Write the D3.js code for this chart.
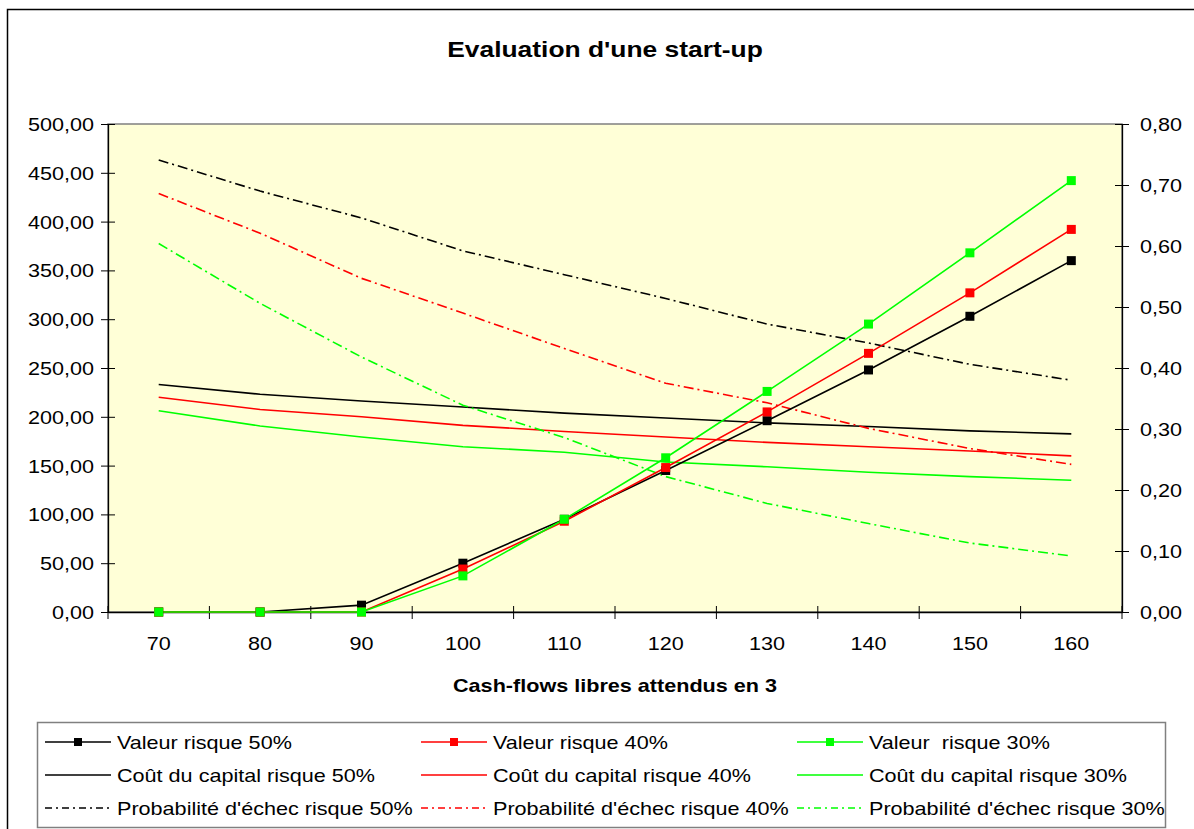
<!DOCTYPE html>
<html><head><meta charset="utf-8">
<script src="https://cdn.jsdelivr.net/npm/d3@7"></script>
<style>
body{margin:0;background:#fff;}
svg{display:block;font-family:"Liberation Sans",Arial,sans-serif;}
</style></head>
<body>
<script>
const categories = [70, 80, 90, 100, 110, 120, 130, 140, 150, 160];
const valeur50 = [0, 0, 7, 50, 95, 145, 196, 248, 303, 360];
const valeur40 = [0, 0, 0, 44, 93, 148, 205, 265, 327, 392];
const valeur30 = [0, 0, 0, 37, 95, 158, 226, 295, 368, 442];
const cout50 = [0.373, 0.357, 0.346, 0.336, 0.326, 0.318, 0.310, 0.304, 0.297, 0.292];
const cout40 = [0.352, 0.332, 0.320, 0.306, 0.296, 0.287, 0.278, 0.271, 0.264, 0.256];
const cout30 = [0.330, 0.305, 0.287, 0.271, 0.262, 0.246, 0.238, 0.229, 0.222, 0.216];
const proba50 = [0.741, 0.690, 0.646, 0.592, 0.553, 0.514, 0.472, 0.441, 0.406, 0.380];
const proba40 = [0.686, 0.621, 0.547, 0.490, 0.432, 0.375, 0.343, 0.301, 0.268, 0.242];
const proba30 = [0.604, 0.506, 0.418, 0.339, 0.286, 0.222, 0.178, 0.145, 0.113, 0.092];
const leftTicks = [0, 50, 100, 150, 200, 250, 300, 350, 400, 450, 500];
const rightTicks = [0, 0.1, 0.2, 0.3, 0.4, 0.5, 0.6, 0.7, 0.8];

const W = 1194, H = 829;
const SX = 1.2; // horizontal stretch of the text in the original rendering
const svg = d3.select("body").append("svg").attr("width", W).attr("height", H);

// outer chart border (right and bottom edges lie outside the picture)
svg.append("rect").attr("x", 7.5).attr("y", 9.5).attr("width", W + 10).attr("height", H + 10)
  .attr("fill", "#fff").attr("stroke", "#000").attr("stroke-width", 1.5);

const pl = 108, pr = 1122, pt = 124, pb = 612;
const x = d3.scaleBand().domain(categories).range([pl, pr]);
const yL = d3.scaleLinear().domain([0, 500]).range([pb, pt]);
const yR = d3.scaleLinear().domain([0, 0.8]).range([pb, pt]);

svg.append("rect").attr("x", pl).attr("y", pt).attr("width", pr - pl).attr("height", pb - pt)
  .attr("fill", "#FFFFD7").attr("stroke", "#808080").attr("stroke-width", 1.5);

const fr = d3.format(".2f");
const comma = v => fr(v).replace(".", ",");

function stretchText(g, xpos) {
  g.selectAll("text").attr("font-size", 18).attr("fill", "#000")
    .attr("font-family", '"Liberation Sans",Arial,sans-serif')
    .attr("x", xpos / SX).attr("transform", `scale(${SX},1)`);
}

// left axis
const gL = svg.append("g").attr("transform", `translate(${pl},0)`)
  .call(d3.axisLeft(yL).tickValues(leftTicks).tickFormat(comma).tickSizeInner(7).tickSizeOuter(0).tickPadding(6));
gL.selectAll(".tick line").attr("x2", 7).attr("x1", -7);
stretchText(gL, -14);
gL.selectAll("text").attr("dy", "0.36em");
// right axis
const gR = svg.append("g").attr("transform", `translate(${pr},0)`)
  .call(d3.axisRight(yR).tickValues(rightTicks).tickFormat(comma).tickSizeInner(7).tickSizeOuter(0).tickPadding(11));
gR.selectAll(".tick line").attr("x1", -7).attr("x2", 7);
stretchText(gR, 18);
gR.selectAll("text").attr("dy", "0.36em");
// bottom axis
const gB = svg.append("g").attr("transform", `translate(0,${pb})`)
  .call(d3.axisBottom(x).tickSize(0).tickPadding(26));
stretchText(gB, 0);
gB.selectAll("text").attr("dy", "0.36em").attr("y", 32);
const bounds = categories.map(c => x(c)).concat([pr]);
gB.selectAll(".bt").data(bounds).enter().append("line").attr("class", "bt")
  .attr("x1", d => d).attr("x2", d => d).attr("y1", -6).attr("y2", 7).attr("stroke", "#000");

[gL, gR, gB].forEach(g => {
  g.select(".domain").attr("stroke", "#000").attr("stroke-width", 1.3);
  g.selectAll("line").attr("stroke", "#000").attr("stroke-width", 1);
});

const cx = c => x(c) + x.bandwidth() / 2;
const DASH = "10,4,2,4";
const series = [
  {name: "Valeur risque 50%", vals: valeur50, color: "#000000", sc: yL, dash: null, mark: true},
  {name: "Valeur risque 40%", vals: valeur40, color: "#FF0000", sc: yL, dash: null, mark: true},
  {name: "Valeur  risque 30%", vals: valeur30, color: "#00FF00", sc: yL, dash: null, mark: true},
  {name: "Coût du capital risque 50%", vals: cout50, color: "#000000", sc: yR, dash: null, mark: false},
  {name: "Coût du capital risque 40%", vals: cout40, color: "#FF0000", sc: yR, dash: null, mark: false},
  {name: "Coût du capital risque 30%", vals: cout30, color: "#00FF00", sc: yR, dash: null, mark: false},
  {name: "Probabilité d'échec risque 50%", vals: proba50, color: "#000000", sc: yR, dash: DASH, mark: false},
  {name: "Probabilité d'échec risque 40%", vals: proba40, color: "#FF0000", sc: yR, dash: DASH, mark: false},
  {name: "Probabilité d'échec risque 30%", vals: proba30, color: "#00FF00", sc: yR, dash: DASH, mark: false}
];

const order = [3, 4, 5, 6, 7, 8, 0, 1, 2];
order.forEach(i => {
  const s = series[i];
  const line = d3.line().x((d, j) => cx(categories[j])).y(d => s.sc(d));
  svg.append("path").datum(s.vals).attr("d", line).attr("fill", "none")
    .attr("stroke", s.color).attr("stroke-width", 1.6)
    .attr("stroke-dasharray", s.dash);
});
[0, 1, 2].forEach(i => {
  const s = series[i];
  svg.selectAll(null).data(s.vals).enter().append("rect")
    .attr("x", (d, j) => cx(categories[j]) - 4.5).attr("y", d => s.sc(d) - 4.5)
    .attr("width", 9).attr("height", 9).attr("fill", s.color);
});

function sText(px, py, str, size, bold, anchor) {
  return svg.append("text").attr("transform", `translate(${px},${py}) scale(${SX},1)`)
    .attr("text-anchor", anchor || "start").attr("font-size", size)
    .attr("font-weight", bold ? "bold" : "normal").style("white-space", "pre").text(str);
}

sText(605, 57, "Evaluation d'une start-up", 22, true, "middle");
sText(615, 692, "Cash-flows libres attendus en 3", 18, true, "middle");

// legend
svg.append("rect").attr("x", 37.5).attr("y", 722.5).attr("width", 1128).attr("height", 105)
  .attr("fill", "#fff").attr("stroke", "#808080").attr("stroke-width", 1.5);
const colX = [45, 421, 797];
const rowY = [742, 775, 808];
series.forEach((s, i) => {
  const col = i % 3, row = Math.floor(i / 3);
  const x0 = colX[col], y0 = rowY[row];
  svg.append("line").attr("x1", x0).attr("x2", x0 + 66).attr("y1", y0).attr("y2", y0)
    .attr("stroke", s.color).attr("stroke-width", 1.6).attr("stroke-dasharray", s.dash ? "7,4,2,4" : null);
  if (s.mark) svg.append("rect").attr("x", x0 + 29).attr("y", y0 - 4).attr("width", 8).attr("height", 8).attr("fill", s.color);
  sText(x0 + 72, y0 + 6.5, s.name, 18, false, "start");
});
</script>
</body></html>
